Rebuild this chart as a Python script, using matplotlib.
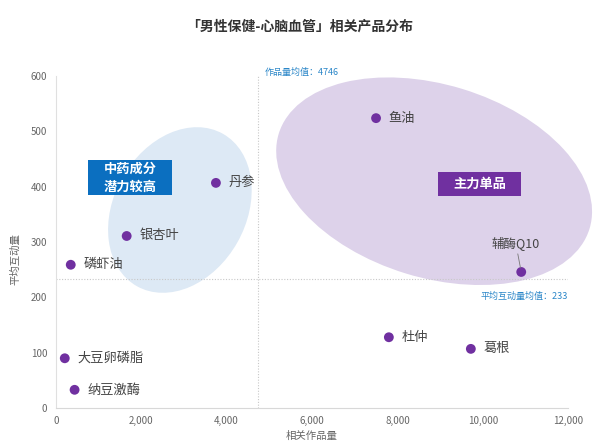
import matplotlib.pyplot as plt
from matplotlib.patches import Ellipse, Rectangle
import matplotlib.transforms as mtransforms

plt.rcParams['font.family'] = ['Noto Sans CJK SC', 'DejaVu Sans']

# product data
names = ['鱼油', '丹参', '银杏叶', '磷虾油', '辅酶Q10', '杜仲', '葛根', '大豆卵磷脂', '纳豆激酶']
works = [7500, 3750, 1660, 350, 10900, 7800, 9720, 210, 440]
interact = [524, 407, 311, 259, 246, 128, 107, 90, 33]

mean_works = 4746
mean_inter = 233
xticks = [0, 2000, 4000, 6000, 8000, 10000, 12000]
yticks = [0, 100, 200, 300, 400, 500, 600]

fig = plt.figure(figsize=(6, 4.45), dpi=100)
ax = fig.add_axes([0.093, 0.083, 0.854, 0.746])
ax.set_xlim(0, 12000)
ax.set_ylim(0, 600)


def anchored(cx, cy):
    # inch-sized shapes anchored at a data point
    return fig.dpi_scale_trans + mtransforms.ScaledTranslation(cx, cy, ax.transData)


def add_ellipse(cx, cy, w, h, angle, color):
    e = Ellipse((0, 0), w, h, angle=angle, transform=anchored(cx, cy),
                facecolor=color, edgecolor='none', zorder=1, clip_on=False)
    ax.add_patch(e)


def add_box(cx, cy, w, h, color, text):
    r = Rectangle((-w / 2, -h / 2), w, h, transform=anchored(cx, cy),
                  facecolor=color, edgecolor='none', zorder=5, clip_on=False)
    ax.add_patch(r)
    ax.text(cx, cy, text, fontsize=9.5, color='white', fontweight='bold',
            ha='center', va='center', linespacing=1.35, zorder=6)


add_ellipse(2906, 358, 1.75, 1.32, 60.5, '#dde9f5')
add_ellipse(8860, 410, 3.25, 1.93, -17, '#ddd2ea')

ax.axvline(mean_works, color='#c8c8c8', lw=0.8, ls=(0, (1, 1.5)), zorder=2)
ax.axhline(mean_inter, color='#c8c8c8', lw=0.8, ls=(0, (1, 1.5)), zorder=2)

ax.scatter(works, interact, s=50, color='#7030a0', zorder=4, edgecolors='none')

for n, x, y in zip(names, works, interact):
    if n == '辅酶Q10':
        ax.annotate(n, (x, y), xytext=(-4, 16), textcoords='offset points',
                    ha='center', va='bottom', fontsize=9, color='#444444', zorder=5,
                    arrowprops=dict(arrowstyle='-', color='#777777', lw=0.6,
                                    shrinkA=1, shrinkB=3))
    else:
        ax.annotate(n, (x, y), xytext=(9, 0), textcoords='offset points',
                    ha='left', va='center', fontsize=9.5, color='#444444', zorder=5)

ax.text(mean_works + 150, 598, '作品量均值：%d' % mean_works, fontsize=6.5,
        color='#2a86c8', va='bottom', ha='left')
ax.text(12000, mean_inter - 22, '平均互动量均值：%d' % mean_inter, fontsize=6.5,
        color='#2a86c8', va='top', ha='right')

add_box(1734, 416, 0.84, 0.35, '#0b6fc0', '中药成分\n潜力较高')
add_box(9925, 405, 0.83, 0.24, '#7030a0', '主力单品')

ax.set_xticks(xticks)
ax.set_xticklabels(['{:,}'.format(v) for v in xticks])
ax.set_yticks(yticks)
ax.tick_params(length=0, labelsize=7, colors='#666666', pad=6)
for s in ['top', 'right']:
    ax.spines[s].set_visible(False)
ax.spines['left'].set_color('#e0e0e0')
ax.spines['bottom'].set_color('#d8d8d8')
ax.spines['left'].set_linewidth(0.8)
ax.spines['bottom'].set_linewidth(0.8)

ax.set_xlabel('相关作品量', fontsize=7.5, color='#666666', labelpad=3)
ax.set_ylabel('平均互动量', fontsize=7.5, color='#666666', labelpad=6)
ax.yaxis.set_label_coords(-0.07, 0.45)

fig.text(0.5, 0.94, '「男性保健-心脑血管」相关产品分布', ha='center', va='center',
         fontsize=10, fontweight='bold', color='#333333')

fig.savefig('out.png', dpi=100, facecolor='white')
